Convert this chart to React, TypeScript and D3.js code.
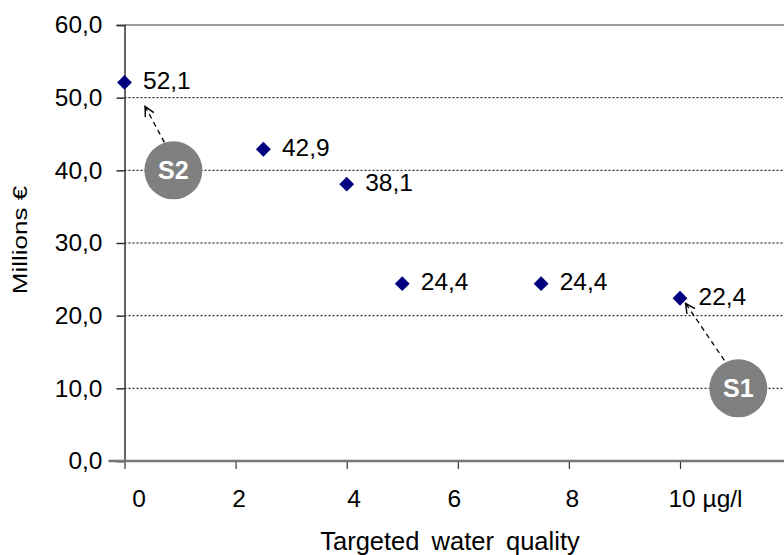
import { useEffect, useRef } from 'react'
import * as d3 from 'd3'

const quality = [0, 2.5, 4, 5, 7.5, 10]
const cost = [52.1, 42.9, 38.1, 24.4, 24.4, 22.4]
const xTicks = [0, 2, 4, 6, 8, 10]
const xTickLabels = ['0', '2', '4', '6', '8', '10 µg/l']
const yTicks = [0, 10, 20, 30, 40, 50, 60]

const scenarios = [
  { name: 'S2', x: 0.88, y: 40, tipX: 0.37, tipY: 48.8 },
  { name: 'S1', x: 11.05, y: 10, tipX: 10.1, tipY: 21.7 }
]

const fmt = (v: number) => v.toFixed(1).replace('.', ',')

export default function App() {
  const svgRef = useRef<SVGSVGElement>(null)
  const width = 784
  const height = 555
  const margin = { top: 25, right: 0, bottom: 94, left: 124.5 }

  useEffect(() => {
    if (!svgRef.current) return
    const svg = d3.select(svgRef.current)
    svg.selectAll('*').remove()

    const font = 'Liberation Sans, Arial, sans-serif'

    const x = d3.scaleLinear()
      .domain([0, 10])
      .range([margin.left, 680])
    const y = d3.scaleLinear()
      .domain([0, 60])
      .range([height - margin.bottom, margin.top])

    const defs = svg.append('defs')
    defs.append('marker')
      .attr('id', 'open-arrow')
      .attr('viewBox', '0 0 10 10')
      .attr('refX', 9)
      .attr('refY', 5)
      .attr('markerWidth', 12)
      .attr('markerHeight', 12)
      .attr('markerUnits', 'userSpaceOnUse')
      .attr('orient', 'auto')
      .append('path')
      .attr('d', 'M1,1 L9,5 L1,9')
      .attr('fill', 'none')
      .attr('stroke', '#000')
      .attr('stroke-width', 1.2)

    // grid lines
    svg.append('g')
      .selectAll('line')
      .data(yTicks.filter(t => t > 0 && t < 60))
      .enter()
      .append('line')
      .attr('x1', margin.left)
      .attr('x2', width)
      .attr('y1', d => y(d))
      .attr('y2', d => y(d))
      .attr('stroke', '#000')
      .attr('stroke-width', 1)
      .attr('stroke-dasharray', '2,2')

    // top frame
    svg.append('line')
      .attr('x1', margin.left)
      .attr('x2', width)
      .attr('y1', y(60))
      .attr('y2', y(60))
      .attr('stroke', '#999')
      .attr('stroke-width', 2)

    // y axis
    const yAxis = d3.axisLeft(y)
      .tickValues(yTicks)
      .tickSize(8)
      .tickFormat(d => fmt(d as number))
    const gy = svg.append('g')
      .attr('transform', `translate(${margin.left},0)`)
      .call(yAxis)
    gy.select('.domain').attr('stroke', '#333').attr('stroke-width', 1.5)
    gy.selectAll('.tick line').attr('stroke', '#333').attr('stroke-width', 1.5)
    gy.selectAll('text')
      .attr('font-family', font)
      .attr('font-size', 24.5)
      .attr('fill', '#000')
      .attr('x', -22)

    // x axis
    const xAxis = d3.axisBottom(x)
      .tickValues(xTicks)
      .tickSize(8)
      .tickSizeOuter(0)
      .tickFormat((d, i) => xTickLabels[i])
    const gx = svg.append('g')
      .attr('transform', `translate(0,${height - margin.bottom})`)
      .call(xAxis)
    gx.select('.domain').remove()
    gx.append('line')
      .attr('x1', margin.left - 16)
      .attr('x2', width)
      .attr('stroke', '#777')
      .attr('stroke-width', 2.5)
    gx.selectAll('.tick line').attr('stroke', '#333').attr('stroke-width', 1.2)
    const nudge = [14, 3, 7, -4, 3, 25]
    gx.selectAll('.tick text')
      .attr('font-family', font)
      .attr('font-size', 24.5)
      .attr('fill', '#000')
      .attr('y', 29)
      .attr('dx', (d, i) => nudge[i])

    // axis titles
    svg.append('text')
      .attr('transform', `translate(27,240) rotate(-90) scale(1,0.8)`)
      .attr('text-anchor', 'middle')
      .attr('font-family', font)
      .attr('font-size', 26)
      .text('Millions €')
    svg.append('text')
      .attr('x', 450)
      .attr('y', 550)
      .attr('text-anchor', 'middle')
      .attr('font-family', font)
      .attr('font-size', 25.5)
      .attr('word-spacing', 5)
      .text('Targeted water quality')

    // scenario annotations
    const ann = svg.append('g')
    ann.selectAll('line')
      .data(scenarios)
      .enter()
      .append('line')
      .attr('x1', d => x(d.x) - (d.name === 'S2' ? 9 : 14))
      .attr('y1', d => y(d.y) - 28)
      .attr('x2', d => x(d.tipX))
      .attr('y2', d => y(d.tipY))
      .attr('stroke', '#000')
      .attr('stroke-width', 1.3)
      .attr('stroke-dasharray', '5,4')
      .attr('marker-end', 'url(#open-arrow)')
    ann.selectAll('circle')
      .data(scenarios)
      .enter()
      .append('circle')
      .attr('cx', d => x(d.x))
      .attr('cy', d => y(d.y))
      .attr('r', 29)
      .attr('fill', '#808080')
    ann.selectAll('text')
      .data(scenarios)
      .enter()
      .append('text')
      .attr('x', d => x(d.x))
      .attr('y', d => y(d.y) + 9)
      .attr('text-anchor', 'middle')
      .attr('font-family', font)
      .attr('font-weight', 'bold')
      .attr('font-size', 25)
      .attr('fill', '#fff')
      .text(d => d.name)

    // points
    const pts = quality.map((q, i) => ({ q, c: cost[i] }))
    const diamond = d3.symbol().type(d3.symbolDiamond2).size(140)
    svg.append('g')
      .selectAll('path')
      .data(pts)
      .enter()
      .append('path')
      .attr('d', diamond)
      .attr('transform', d => `translate(${x(d.q)},${y(d.c)})`)
      .attr('fill', '#000080')

    svg.append('g')
      .selectAll('text')
      .data(pts)
      .enter()
      .append('text')
      .attr('x', d => x(d.q) + 18.5)
      .attr('y', d => y(d.c) + 6.5)
      .attr('font-family', font)
      .attr('font-size', 24.5)
      .attr('fill', '#000')
      .text(d => fmt(d.c))
  }, [])

  return (
    <svg
      ref={svgRef}
      width={width}
      height={height}
      style={{ position: 'absolute', left: 0, top: 0, background: '#fff' }}
    />
  )
}
